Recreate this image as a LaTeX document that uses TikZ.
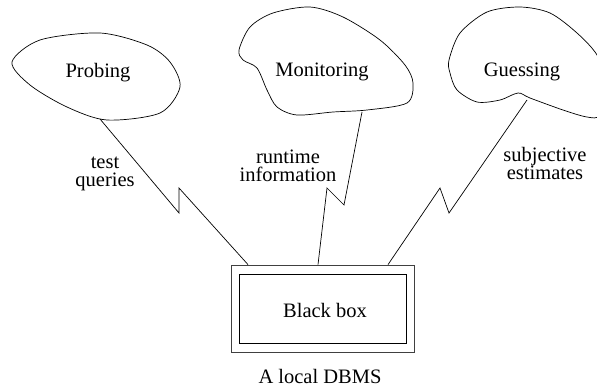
\documentclass[tikz,border=0pt]{standalone}
\usepackage{fontspec}
\setmainfont{Liberation Serif}
\begin{document}
\begin{tikzpicture}[x=1pt,y=-1pt,
  lbl/.style={font=\fontsize{20.5pt}{18pt}\selectfont, inner sep=0pt, align=center},
  blob/.style={line width=0.7pt},
  conn/.style={line width=0.7pt},
  boxo/.style={draw=black!75, line width=0.8pt, minimum width=183pt, minimum height=87pt, inner sep=0pt},
  boxi/.style={draw, line width=0.7pt, minimum width=167pt, minimum height=69pt, inner sep=0pt}]
\useasboundingbox (0,0) rectangle (597,389);
% blobs
\draw[blob] plot[smooth cycle] coordinates {(12,62) (40,40) (100,33) (147,45) (170,62) (180,87) (160,113) (107,120) (67,107) (30,85)};
\draw[blob] plot[smooth cycle] coordinates {(239,50) (250,27) (273,13) (310,7) (343,17) (380,40) (405,65) (413,83) (407,103) (367,110) (333,112) (297,115) (277,107) (267,90) (257,68) (243,60)};
\draw[blob] plot[smooth cycle, tension=0.5] coordinates {(449,60) (460,33) (487,12) (520,7) (550,13) (577,33) (597,55) (608,85) (600,115) (587,117) (563,110) (530,98) (518,93) (500,100) (477,102) (457,90) (450,73)};
% blob texts
\node[lbl, anchor=base] (probing) at (98,77) {Probing};
\node[lbl, anchor=base] (monitoring) at (322,76) {Monitoring};
\node[lbl, anchor=base] (guessing) at (522,76) {Guessing};
% connector start points on blobs
\coordinate (pstart) at (100,119);
\coordinate (mstart) at (362,112);
\coordinate (gstart) at (527,100);
% box
\node[boxo] (box) at (322.5,308.5) {};
\node[boxi] (inner) at (322.5,308.5) {};
\node[lbl, anchor=base] (bbtext) at (325,317) {Black box};
\node[lbl, anchor=base] (dbms) at (320,383) {A local DBMS};
% connectors
\draw[conn] (pstart) -- (179,213) -- (179,188) -- ([xshift=-74.5pt]box.north);
\draw[conn] (mstart) -- (344,205) -- (327,188) -- ([xshift=-4.5pt]box.north);
\draw[conn] (gstart) -- (449,213) -- (440,188) -- ([xshift=65.5pt]box.north);
% labels
\node[lbl] (tq) at (105,174) {test\\queries};
\node[lbl] (ri) at (288,166) {runtime\\information};
\node[lbl] (se) at (545,163) {subjective\\estimates};
\end{tikzpicture}
\end{document}
